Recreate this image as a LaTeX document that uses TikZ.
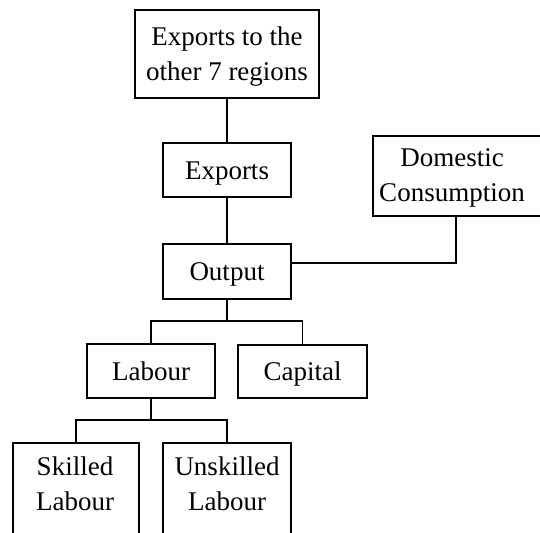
\documentclass[tikz,border=0pt]{standalone}
\usepackage{fontspec}
\setmainfont{Liberation Serif}
\begin{document}
\begin{tikzpicture}[x=1pt,y=-1pt,
  box/.style={draw, line width=2pt, rectangle, inner sep=0pt, align=center,
    font=\fontsize{27}{35}\selectfont, text height=20pt, text depth=2pt},
  frame/.style={draw, line width=2pt, rectangle, inner sep=0pt},
  label2/.style={inner sep=0pt, align=center, font=\fontsize{27}{35}\selectfont},
  thin/.style={line width=1.1pt},
  stem/.style={line width=2pt}]
\useasboundingbox (0,0) rectangle (540,532);
\clip (0,0) rectangle (540,532);
% two-line boxes: frame plus text
\node[frame, minimum width=184, minimum height=88] (top) at (227,54) {};
\node[label2] (toptext) at (227,56.5) {Exports to the\\other 7 regions};
\node[box, minimum width=128, minimum height=54] (exp) at (227,170) {Exports};
\node[box, minimum width=128, minimum height=55] (out) at (227,271) {Output};
\node[frame, minimum width=190, minimum height=80] (dom) at (468,176) {};
\node[label2] (domtext) at (452,178) {Domestic\\Consumption};
\node[box, minimum width=128, minimum height=54] (lab) at (151,371) {Labour};
\node[box, minimum width=129, minimum height=53] (cap) at (302.5,371) {Capital};
\node[frame, minimum width=126, minimum height=91] (sk) at (76,488.5) {};
\node[label2] (sktext) at (75,483.5) {Skilled\\Labour};
\node[frame, minimum width=128, minimum height=91] (unsk) at (227,488.5) {};
\node[label2] (unsktext) at (227,483.5) {Unskilled\\Labour};
% connectors
\draw[thin] (top.south) -- (exp.north);
\draw[thin] (exp.south) -- (out.north);
\coordinate (j) at (456,263);
\draw[thin] (j -| out.east) -- (j) -- (j |- dom.south);
\coordinate (b1) at (227,321);
\draw[stem] (out.south) -- (b1);
\draw[thin] (lab.north) -- (lab.north |- b1) -- (cap.north |- b1) -- (cap.north);
\coordinate (b2) at (151,420);
\draw[stem] (lab.south) -- (b2);
\draw[thin] (sk.north) -- (sk.north |- b2) -- (unsk.north |- b2) -- (unsk.north);
\end{tikzpicture}
\end{document}
